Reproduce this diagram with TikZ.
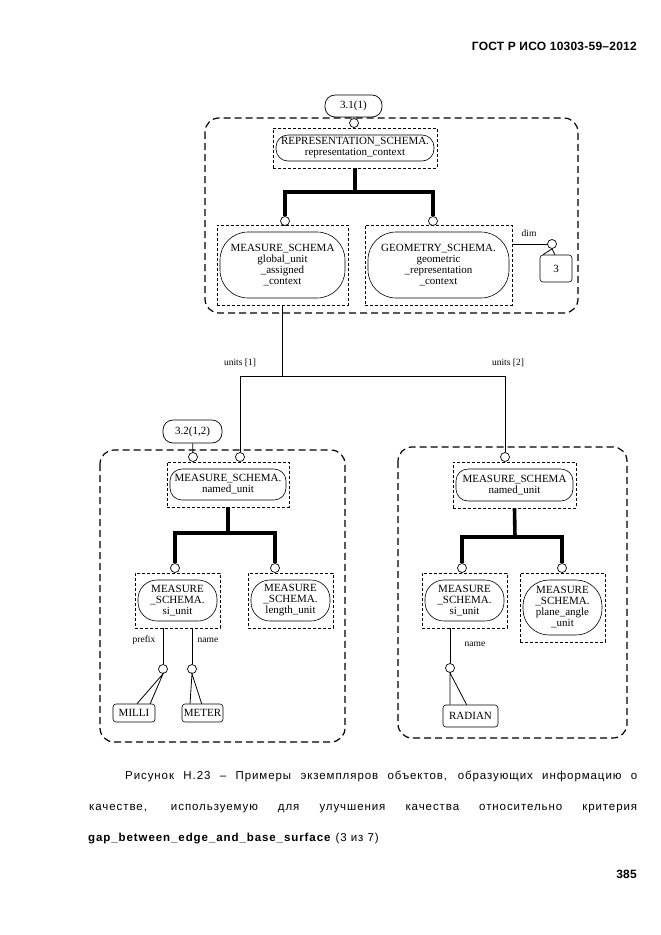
\documentclass[tikz,border=0pt]{standalone}
\usepackage{fontspec}
\setmainfont{Liberation Serif}
\newfontfamily\capfont[LetterSpace=8]{Liberation Sans}
\newfontfamily\hdrfont[LetterSpace=2]{Liberation Sans}
\usetikzlibrary{calc}
\newcommand\entfont{\fontsize{11}{11}\selectfont}
\tikzset{
  ent/.style={draw, dash pattern=on 3pt off 2pt, line width=0.9pt, inner sep=0pt, align=center, font=\entfont,
    path picture={\draw[solid, line width=0.6pt, rounded corners=#1]
      ([shift={(3pt,7pt)}]path picture bounding box.south west) rectangle
      ([shift={(-3pt,-7pt)}]path picture bounding box.north east);}},
  ent/.default=12pt,
  frame/.style={dash pattern=on 7pt off 4pt, line width=1.2pt, rounded corners=14pt},
  pin/.style={circle, draw, fill=white, minimum size=9pt, inner sep=0pt, line width=0.7pt},
  val/.style={draw, rounded corners=3pt, line width=0.6pt, font=\entfont, inner sep=0pt},
  ref/.style={draw, rounded corners=10pt, line width=0.7pt, font=\fontsize{11}{12}\selectfont, inner sep=0pt},
  bar/.style={line width=3.6pt},
  lnk/.style={line width=0.8pt},
  lbl/.style={font=\fontsize{9.5}{10}\selectfont, inner sep=0pt},
}
\begin{document}
\begin{tikzpicture}[x=1pt, y=-1pt]
\useasboundingbox[fill=white] (0,0) rectangle (661,935);

\node[anchor=base east, inner sep=0pt, font=\hdrfont\bfseries\fontsize{12}{13}\selectfont] (hdr) at (637,50) {ГОСТ Р ИСО 10303-59–2012};

% upper group
\draw[frame] (205,118) rectangle (578,313);
\node[ref, minimum width=57pt, minimum height=22pt] (r31) at (353.5,106) {3.1(1)};
\node[pin] (c31) at (354,123) {};
\draw[lnk] (r31) -- (c31);

\node[ent, minimum width=164pt, minimum height=40pt] (rep) at (355,148) {REPRESENTATION\_SCHEMA.\\representation\_context};
\node[ent=28pt, minimum width=131pt, minimum height=80pt] (gmu) at (282.5,265) {MEASURE\_SCHEMA\\global\_unit\\\_assigned\\\_context};
\node[ent=28pt, minimum width=147pt, minimum height=80pt] (geo) at (438.5,265) {GEOMETRY\_SCHEMA.\\geometric\\\_representation\\\_context};
\node[pin] (cgmu) at (285,221) {};
\node[pin] (cgeo) at (433,221) {};
\coordinate (j1) at (355,192);
\draw[bar] (rep.south) -- (j1);
\draw[bar] (j1) -| (cgmu);
\draw[bar] (j1) -| (cgeo);

\node[pin] (cdim) at (552,244) {};
\draw[lnk] (geo.east |- cdim) -- (cdim);
\node[lbl] (ldim) at (529,233) {dim};
\node[val, minimum width=32pt, minimum height=27pt] (v3) at (556,268.5) {3};
\draw[lnk] ($(v3.north west)!0.1!(v3.north east)$) -- (cdim.south) -- ($(v3.north west)!0.47!(v3.north east)$);

% units
\node[pin] (cu1) at (240,457) {};
\node[pin] (cu2) at (505,457) {};
\draw[lnk] (gmu.south) -- ++(0,71) coordinate (u0);
\draw[lnk] (cu1) |- (u0) -| (cu2);
\node[lbl] (lu1) at (240,363) {units [1]};
\node[lbl] (lu2) at (508,363) {units [2]};

% lower left group
\draw[frame] (100,450) rectangle (345,742);
\node[ref, minimum width=59pt, minimum height=23pt] (r32) at (192.5,431.5) {3.2(1,2)};
\node[pin] (c32) at (193,457) {};
\draw[lnk] (r32) -- (c32);

\node[ent, minimum width=122pt, minimum height=45pt] (nu1) at (228,484.5) {MEASURE\_SCHEMA.\\named\_unit};
\node[ent=19pt, minimum width=85pt, minimum height=55pt] (si1) at (177.5,600.5) {MEASURE\\\_SCHEMA.\\si\_unit};
\node[ent=19pt, minimum width=85pt, minimum height=55pt] (len) at (290.5,600.5) {MEASURE\\\_SCHEMA.\\length\_unit};
\node[pin] (csi1) at (175,568) {};
\node[pin] (clen) at (275,568) {};
\coordinate (j2) at (228,533);
\draw[bar] (nu1.south) -- (j2);
\draw[bar] (j2) -| (csi1);
\draw[bar] (j2) -| (clen);

\node[pin] (cpre) at (163,669) {};
\node[pin] (cnm1) at (192,669) {};
\draw[lnk] (si1.south -| cpre) -- (cpre);
\draw[lnk] (si1.south -| cnm1) -- (cnm1);
\node[lbl] (lpre) at (144,640) {prefix};
\node[lbl] (lnm1) at (208,640) {name};
\node[val, minimum width=42pt, minimum height=18pt] (milli) at (134,713) {MILLI};
\node[val, minimum width=41pt, minimum height=18pt] (meter) at (202.5,713) {METER};
\draw[lnk] ($(milli.north west)!0.57!(milli.north east)$) -- (cpre.south) -- ($(milli.north west)!0.88!(milli.north east)$);
\draw[lnk] ($(meter.north west)!0.2!(meter.north east)$) -- (cnm1.south) -- ($(meter.north west)!0.48!(meter.north east)$);

% lower right group
\draw[frame] (398,447) rectangle (627,738);
\node[ent, minimum width=123pt, minimum height=46pt] (nu2) at (514.5,485) {MEASURE\_SCHEMA\\named\_unit};
\node[ent=19pt, minimum width=85pt, minimum height=55pt] (si2) at (464.5,600.5) {MEASURE\\\_SCHEMA.\\si\_unit};
\node[ent=26pt, minimum width=85pt, minimum height=69pt] (pa) at (562.5,607.5) {MEASURE\\\_SCHEMA.\\plane\_angle\\\_unit};
\node[pin] (csi2) at (462,568) {};
\node[pin] (cpa) at (562,568) {};
\coordinate (j3) at (515,537);
\draw[bar] (nu2.south) -- (j3);
\draw[bar] (j3) -| (csi2);
\draw[bar] (j3) -| (cpa);

\node[pin] (cnm2) at (450,668) {};
\draw[lnk] (si2.south -| cnm2) -- (cnm2);
\node[lbl] (lnm2) at (475,644) {name};
\node[val, minimum width=55pt, minimum height=22pt] (radian) at (470.5,716) {RADIAN};
\draw[lnk] ($(radian.north west)!0.13!(radian.north east)$) -- (cnm2.south) -- ($(radian.north west)!0.43!(radian.north east)$);

% caption
\node[anchor=base west, inner sep=0pt, font=\capfont\fontsize{11.5}{12}\selectfont] (cap1) at (125,779)
  {\makebox[512pt][s]{Рисунок Н.23 – Примеры экземпляров объектов, образующих информацию о}};
\node[anchor=base west, inner sep=0pt, font=\capfont\fontsize{11.5}{12}\selectfont] (cap2) at (89,810)
  {\makebox[548pt][s]{качестве, используемую для улучшения качества относительно критерия}};
\node[anchor=base west, inner sep=0pt, font=\capfont\fontsize{11.5}{12}\selectfont] (cap3) at (88,841)
  {\textbf{gap\_between\_edge\_and\_base\_surface} (3 из 7)};
\node[anchor=base east, inner sep=0pt, font=\hdrfont\bfseries\fontsize{12}{13}\selectfont] (pg) at (637,878) {385};
\end{tikzpicture}
\end{document}
